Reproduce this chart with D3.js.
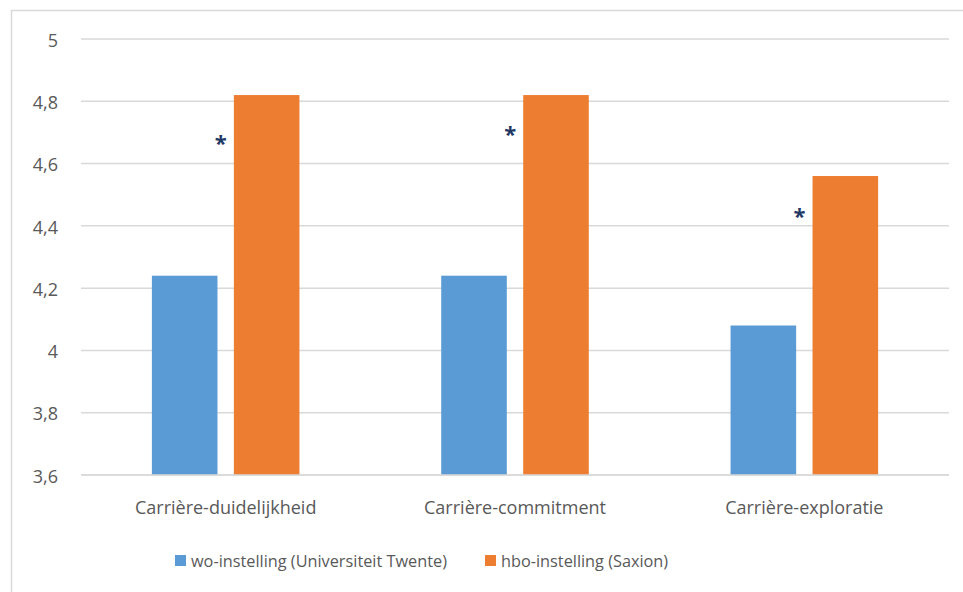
<!DOCTYPE html>
<html>
<head>
<meta charset="utf-8">
<script src="https://cdn.jsdelivr.net/npm/d3@7"></script>
<style>
  body { margin: 0; background: #fff; }
  text { font-family: "Open Sans", "Liberation Sans", sans-serif; fill: #595959; }
</style>
</head>
<body>
<div id="chart"></div>
<script>
// data
var categories = ["Carrière-duidelijkheid", "Carrière-commitment", "Carrière-exploratie"];
var seriesNames = ["wo-instelling (Universiteit Twente)", "hbo-instelling (Saxion)"];
var woValues = [4.24, 4.24, 4.08];
var hboValues = [4.82, 4.82, 4.56];
var yTicks = [3.6, 3.8, 4, 4.2, 4.4, 4.6, 4.8, 5];
// significance markers (category, y-position in data units)
var starCats = ["Carrière-duidelijkheid", "Carrière-commitment", "Carrière-exploratie"];
var starY = [4.677, 4.706, 4.442];

var colors = ["#5b9bd5", "#ed7d31"];

var W = 963, H = 592;
var margin = {top: 39, right: 14, bottom: 117, left: 81};
var width = W - margin.left - margin.right,
    height = H - margin.top - margin.bottom;

var svg = d3.select("#chart").append("svg")
    .attr("width", W)
    .attr("height", H);

// outer chart-area frame (right/bottom clipped off in the original)
svg.append("rect")
    .attr("x", 11.5).attr("y", 10.5)
    .attr("width", W + 10).attr("height", H + 10)
    .attr("fill", "none")
    .attr("stroke", "#d9d9d9")
    .attr("stroke-width", 1.5);

var g = svg.append("g")
    .attr("transform", "translate(" + margin.left + "," + margin.top + ")");

var xScale = d3.scaleBand()
    .domain(categories)
    .range([0, width])
    .paddingInner(0)
    .paddingOuter(0);

var yScale = d3.scaleLinear()
    .domain([3.6, 5])
    .range([height, 0]);

var fmt = function(d) { return String(d).replace(".", ","); };

// gridlines
g.append("g").selectAll("line")
    .data(yTicks)
    .enter().append("line")
    .attr("x1", 0).attr("x2", width)
    .attr("y1", function(d) { return yScale(d); })
    .attr("y2", function(d) { return yScale(d); })
    .attr("stroke", "#d9d9d9")
    .attr("stroke-width", 1.5);

// y axis labels
var yAxis = g.append("g")
    .call(d3.axisLeft(yScale).tickValues(yTicks).tickFormat(fmt).tickSize(0).tickPadding(23));
yAxis.select(".domain").remove();
yAxis.selectAll("text").attr("font-size", 18).attr("fill", "#595959")
    .attr("dy", "0.4em")
    .style("font-family", "'Open Sans', 'Liberation Sans', sans-serif");

// bars
var inner = d3.scaleBand()
    .domain([0, 1])
    .range([xScale.bandwidth() * 0.245, xScale.bandwidth() * 0.755])
    .paddingInner(0.2);

var series = [woValues, hboValues];
series.forEach(function(vals, si) {
    g.append("g").selectAll("rect")
        .data(vals)
        .enter().append("rect")
        .attr("x", function(d, i) { return xScale(categories[i]) + inner(si); })
        .attr("y", function(d) { return yScale(d); })
        .attr("width", inner.bandwidth())
        .attr("height", function(d) { return height - yScale(d); })
        .attr("fill", colors[si]);
});

// baseline
g.append("line")
    .attr("x1", 0).attr("x2", width)
    .attr("y1", height).attr("y2", height)
    .attr("stroke", "#d9d9d9")
    .attr("stroke-width", 1.5);

// category labels
var xAxis = g.append("g")
    .attr("transform", "translate(0," + height + ")")
    .call(d3.axisBottom(xScale).tickSize(0).tickPadding(26));
xAxis.select(".domain").remove();
xAxis.selectAll("text").attr("font-size", 18).attr("fill", "#595959")
    .style("font-family", "'Open Sans', 'Liberation Sans', sans-serif");

// asterisks
g.append("g").selectAll("text")
    .data(starY)
    .enter().append("text")
    .attr("x", function(d, i) { return xScale(starCats[i]) + inner(1) - 13; })
    .attr("y", function(d) { return yScale(d); })
    .attr("dy", "0.5em")
    .attr("text-anchor", "middle")
    .attr("font-size", 22)
    .attr("font-weight", "bold")
    .style("fill", "#1f3864")
    .text("*");

// legend
var legend = svg.append("g").attr("transform", "translate(0,561)");
var legendX = [175, 485];
seriesNames.forEach(function(name, i) {
    legend.append("rect")
        .attr("x", legendX[i]).attr("y", -6)
        .attr("width", 11).attr("height", 11)
        .attr("fill", colors[i]);
    legend.append("text")
        .attr("x", legendX[i] + 16).attr("y", 0)
        .attr("dy", "0.35em")
        .attr("font-size", 16.3)
        .text(name);
});
</script>
</body>
</html>
